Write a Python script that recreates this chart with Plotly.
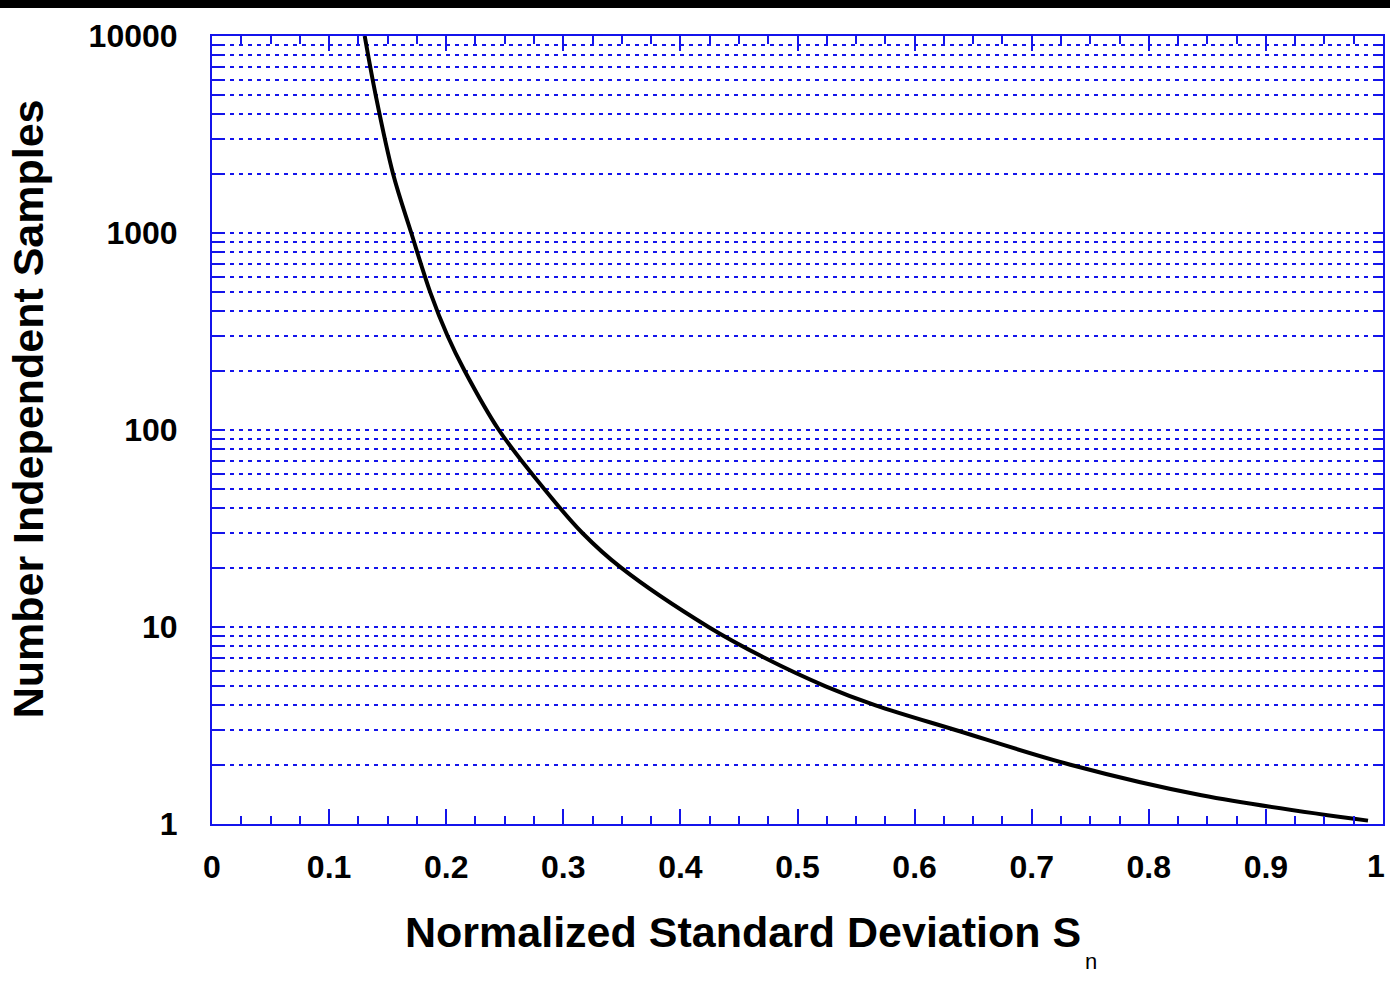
import plotly.graph_objects as go

# Normalized standard deviation S_n and required number of independent samples
s_n = [0.1304, 0.1398, 0.1546, 0.1702, 0.1864, 0.2012, 0.2157, 0.2450,
       0.2839, 0.3163, 0.3493, 0.4240, 0.4714, 0.5240, 0.5667, 0.6349,
       0.7330, 0.8450, 0.9872]
samples = [10000, 5000, 2000, 1000, 500, 300, 200, 100,
           50, 30, 20, 10, 7, 5, 4, 3,
           2, 1.40, 1.04]

x_ticks = [0, 0.1, 0.2, 0.3, 0.4, 0.5, 0.6, 0.7, 0.8, 0.9]
x_labels = ["0", "0.1", "0.2", "0.3", "0.4", "0.5", "0.6", "0.7", "0.8", "0.9"]
x_end_label = "1"
decades = [1, 10, 100, 1000, 10000]
decade_labels = ["1", "10", "100", "1000", "10000"]

# every 1..9 step of each decade carries a grid line; only decades are labelled
y_ticks, y_labels = [], []
for d, lab in zip(decades[:-1], decade_labels[:-1]):
    for k in range(1, 10):
        y_ticks.append(d * k)
        y_labels.append(lab if k == 1 else "")
y_ticks.append(decades[-1])
y_labels.append(decade_labels[-1])

BLUE = "rgb(20,20,235)"
FONT = "Liberation Sans, Arial, sans-serif"
TICK_FONT = dict(family=FONT, size=32, color="black", weight="bold")

fig = go.Figure()
fig.add_trace(go.Scatter(
    x=s_n, y=samples, mode="lines",
    line=dict(color="black", width=4, shape="spline", smoothing=1.0),
    showlegend=False, hoverinfo="x+y",
))

fig.update_xaxes(
    range=[0, 1], tickvals=x_ticks + [1], ticktext=x_labels + [""],
    ticks="inside", ticklen=15, tickwidth=2, tickcolor=BLUE,
    minor=dict(dtick=0.025, ticks="inside", ticklen=8, tickwidth=2,
               tickcolor=BLUE, showgrid=False),
    showgrid=False, zeroline=False,
    showline=True, linecolor=BLUE, linewidth=2, mirror="ticks",
    tickfont=TICK_FONT,
    ticklabelstandoff=14,
)
fig.update_yaxes(
    type="log", range=[0, 4], tickvals=y_ticks, ticktext=y_labels,
    ticks="inside", ticklen=10, tickwidth=2, tickcolor=BLUE,
    showgrid=True, gridcolor=BLUE, gridwidth=2, griddash="4px,5px",
    zeroline=False,
    showline=True, linecolor=BLUE, linewidth=2, mirror="ticks",
    tickfont=TICK_FONT,
    ticklabelstandoff=26,
)

fig.update_layout(
    width=1390, height=986,
    margin=dict(l=212, r=5, t=36, b=162),
    paper_bgcolor="white", plot_bgcolor="white",
    shapes=[dict(type="rect", xref="paper", yref="paper",
                 x0=-0.2, x1=1.01, y0=1.0355, y1=1.05,
                 fillcolor="black", line=dict(width=0), layer="above")],
    annotations=[
        # label for the x = 1 tick at the right edge of the frame
        dict(text=x_end_label, xref="x", yref="paper",
             x=1, y=-0.0533, xanchor="right", yanchor="middle", xshift=4,
             showarrow=False, font=TICK_FONT),
        dict(text="Normalized Standard Deviation S", xref="paper", yref="paper",
             x=0.4535, y=-0.137, xanchor="center", yanchor="middle",
             showarrow=False,
             font=dict(family=FONT, size=43, color="black", weight="bold")),
        dict(text="n", xref="paper", yref="paper",
             x=0.751, y=-0.175, xanchor="center", yanchor="middle",
             showarrow=False,
             font=dict(family=FONT, size=22, color="black")),
        dict(text="Number Independent Samples", xref="paper", yref="paper",
             x=-0.1569, y=0.5266, xanchor="center", yanchor="middle",
             textangle=-90, showarrow=False,
             font=dict(family=FONT, size=43, color="black", weight="bold")),
    ],
)

fig.write_html("out.html")
